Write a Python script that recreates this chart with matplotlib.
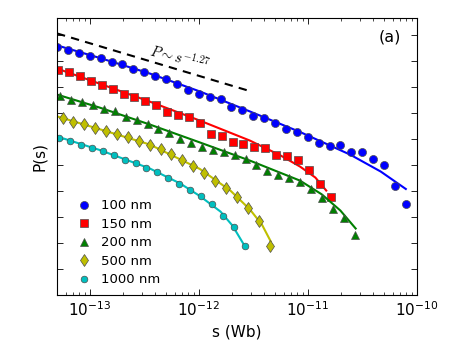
import numpy as np
import matplotlib
matplotlib.use('Agg')
from matplotlib import pyplot as plt
from matplotlib.ticker import LogLocator, NullLocator, NullFormatter

# avalanche size distributions, values read as log10(s) and log10(P)
labels = ['100 nm', '150 nm', '200 nm', '500 nm', '1000 nm']
colors = ['b', 'r', 'g', 'y', 'c']
markers = ['o', 's', '^', 'd', 'o']
msizes = [5.8, 5.3, 5.6, 6.2, 4.8]

# x start (log10) of each series, 0.1 decade binning
x_start = [-13.30, -13.29, -13.27, -13.25, -13.28]

logp_100 = [-1.47, -1.56, -1.69, -1.81, -1.90, -2.02, -2.13, -2.31, -2.44, -2.58,
            -2.71, -2.88, -3.10, -3.25, -3.38, -3.47, -3.75, -3.87, -4.10, -4.18,
            -4.40, -4.61, -4.74, -4.93, -5.17, -5.28, -5.22, -5.51, -5.51, -5.75,
            -5.98, -6.79, -7.49]
logp_150 = [-2.34, -2.44, -2.58, -2.75, -2.93, -3.08, -3.25, -3.40, -3.53, -3.69,
            -3.96, -4.08, -4.17, -4.39, -4.80, -4.88, -5.10, -5.18, -5.32, -5.33,
            -5.60, -5.65, -5.79, -6.19, -6.72, -7.23]
logp_200 = [-3.33, -3.48, -3.58, -3.70, -3.84, -3.94, -4.15, -4.25, -4.44, -4.61,
            -4.76, -4.98, -5.15, -5.30, -5.44, -5.50, -5.63, -5.77, -5.98, -6.24,
            -6.39, -6.49, -6.65, -6.92, -7.28, -7.70, -8.03, -8.69]
logp_500 = [-4.18, -4.33, -4.44, -4.58, -4.69, -4.81, -4.94, -5.08, -5.21, -5.38,
            -5.58, -5.79, -6.02, -6.29, -6.60, -6.90, -7.23, -7.65, -8.15, -9.12]
logp_1000 = [-4.95, -5.08, -5.21, -5.34, -5.47, -5.60, -5.80, -5.92, -6.11, -6.28,
             -6.49, -6.72, -6.97, -7.20, -7.48, -7.97, -8.38, -9.10]
series = [logp_100, logp_150, logp_200, logp_500, logp_1000]

# fitted curves (log10 s, log10 P)
fit_x = [
    [-13.30, -12.91, -12.45, -11.99, -11.53, -11.07, -10.61, -10.33, -10.10],
    [-13.30, -12.91, -12.45, -11.99, -11.53, -11.25, -11.07, -10.93, -10.83],
    [-13.30, -12.91, -12.45, -11.99, -11.53, -11.07, -10.87, -10.70, -10.56],
    [-13.30, -12.91, -12.45, -11.99, -11.71, -11.53, -11.42, -11.34],
    [-13.30, -12.91, -12.45, -12.17, -11.99, -11.80, -11.69, -11.59],
]
fit_y = [
    [-1.40, -1.88, -2.48, -3.17, -3.94, -4.73, -5.60, -6.25, -6.92],
    [-2.29, -2.87, -3.56, -4.29, -5.06, -5.63, -6.06, -6.48, -6.98],
    [-3.29, -3.79, -4.44, -5.13, -5.83, -6.60, -7.13, -7.75, -8.44],
    [-4.13, -4.62, -5.21, -6.15, -6.98, -7.71, -8.29, -8.93],
    [-4.90, -5.42, -6.13, -6.71, -7.19, -7.79, -8.33, -9.03],
]

# power law guide P ~ s^-1.27
guide_x = [-13.30, -11.56]
guide_y = [-0.94, -3.12]

xticks = [1e-13, 1e-12, 1e-11, 1e-10]

fs = 11
fig = plt.figure(figsize=(4.63, 3.48), dpi=100)
ax = fig.add_axes([0.123, 0.152, 0.777, 0.796])

for i in range(5):
    lx = x_start[i] + 0.1 * np.arange(len(series[i]))
    ax.plot(10 ** np.array(fit_x[i]), 10 ** np.array(fit_y[i]), '-', color=colors[i], lw=1.5)
    ax.plot(10 ** lx, 10 ** np.array(series[i]), linestyle='none', marker=markers[i],
            color=colors[i], ms=msizes[i], mec='0.3', mew=0.5, label=labels[i])

ax.plot(10 ** np.array(guide_x), 10 ** np.array(guide_y), 'k--', lw=1.5, dashes=(4, 3))
ax.text(10 ** -12.17, 10 ** -1.85, r'$P\sim s^{-1.27}$', fontsize=10.5, rotation=-14,
        ha='center', va='center', math_fontfamily='cm')
ax.text(0.925, 0.93, '(a)', transform=ax.transAxes, fontsize=11.5, ha='center', va='center')

ax.set_xscale('log')
ax.set_yscale('log')
ax.set_xlim(5e-14, 1e-10)
ax.set_ylim(1e-11, 10 ** -0.35)
ax.set_xticks(xticks)
ax.yaxis.set_major_locator(LogLocator(base=10, numticks=30))
ax.yaxis.set_minor_locator(NullLocator())
ax.yaxis.set_major_formatter(NullFormatter())
ax.tick_params(which='both', direction='in', top=True, right=True, labelsize=fs)
ax.tick_params(which='major', length=4, width=0.6)
ax.tick_params(which='minor', length=2, width=0.5)

ax.set_xlabel('s (Wb)', fontsize=fs)
ax.set_ylabel('P(s)', fontsize=fs)

ax.legend(loc='upper left', bbox_to_anchor=(0.02, 0.37), frameon=False, numpoints=1,
          fontsize=9.5, handletextpad=0.3, labelspacing=0.42, borderpad=0)

fig.savefig('out.png')
